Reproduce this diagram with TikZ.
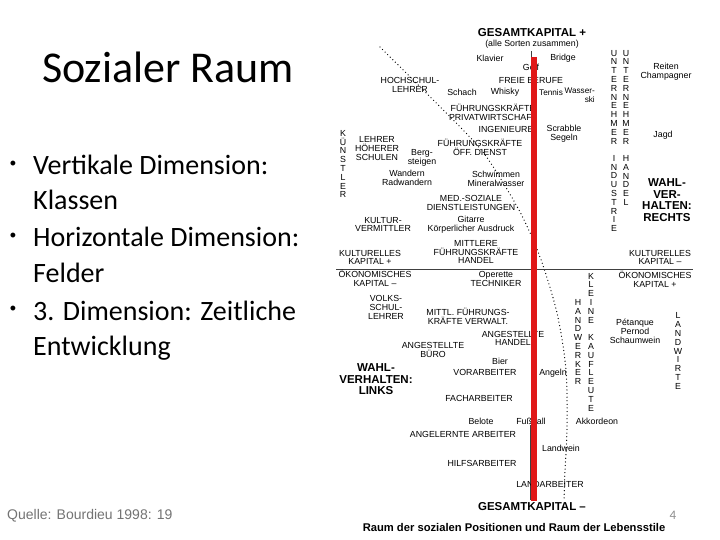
\documentclass[tikz,border=0pt]{standalone}
\usepackage{fontspec}
\setmainfont{Carlito}
\newfontfamily\diagfont{Liberation Sans}
\usetikzlibrary{positioning}
\definecolor{axisred}{RGB}{224,24,24}

\begin{document}
\begin{tikzpicture}[
  x=1pt, y=-1pt,
  lab/.style={font=\diagfont\fontsize{8.8}{8.8}\selectfont, align=center, inner sep=0pt},
  small/.style={lab, font=\diagfont\fontsize{8.2}{8.8}\selectfont},
  headl/.style={font=\diagfont\bfseries\fontsize{11.5}{11.5}\selectfont, align=center, inner sep=0pt},
  capt/.style={font=\diagfont\bfseries\fontsize{11.2}{11.2}\selectfont, inner sep=0pt},
  item/.style={anchor=base west, font=\fontsize{28}{34}\selectfont, inner sep=0pt},
  bul/.style={font=\diagfont\fontsize{18}{18}\selectfont, inner sep=0pt},
  note/.style={font=\diagfont\fontsize{14}{14}\selectfont, text=black!55, inner sep=0pt},
  axis/.style={line width=0.9pt, black!75},
  redaxis/.style={line width=5.5pt, axisred},
  dotline/.style={line width=1.3pt, dash pattern=on 0pt off 3.6pt, line cap=round}
]
\useasboundingbox (0,0) rectangle (720,540);

% slide text
\node[anchor=base, font=\fontsize{44}{44}\selectfont, inner sep=0pt] (title) at (168,83) {Sozialer Raum};
\node[bul] (d1) at (13,165) {•};
\node[item] (v1) at (33,175) {Vertikale Dimension:};
\node[item] (v2) at (33,210) {Klassen};
\node[bul] (d2) at (13,237) {•};
\node[item] (h1) at (33,247) {Horizontale Dimension:};
\node[item] (h2) at (33,282) {Felder};
\node[bul] (d3) at (13,310) {•};
\node[item] (z1) at (33,320) {3. Dimension: Zeitliche};
\node[item] (z2) at (33,355) {Entwicklung};
\node[note, anchor=west] (quelle) at (7,516) {Quelle: Bourdieu 1998: 19};
\node[note, font=\fontsize{13}{13}\selectfont, text=black!45] (pnum) at (673,515) {4};

% dotted border of the field
\draw[dotline] plot[smooth] coordinates {(380,47) (465,132) (490,162) (520,212)
  (540,257) (557,313) (566,370) (567,430) (565,470) (564,500)};

% axes
\draw[axis] (336,269) -- (693,269);
\draw[axis] (531.5,51) -- (531.5,60);
\draw[axis] (530.5,425) -- (530.5,500);

% top half
\node[headl] (gkplus) at (532,33) {GESAMTKAPITAL +};
\node[lab] (sorten) at (532,44) {(alle Sorten zusammen)};
\node[lab] (klavier) at (490,58) {Klavier};
\node[lab] (bridge) at (563,58) {Bridge};
\node[lab] (golf) at (531,67) {Golf};
\node[lab] (reiten) at (666,72) {Reiten\\Champagner};
\node[lab] (hochschul) at (410,85) {HOCHSCHUL-\\LEHRER};
\node[lab] (freie) at (531,81) {FREIE BERUFE};
\node[lab] (schach) at (462,92) {Schach};
\node[lab] (whisky) at (505,92) {Whisky};
\node[small] (tennis) at (551,93) {Tennis};
\node[small, align=right, anchor=east] (wasser) at (595,95.5) {Wasser-\\ski};
\node[lab] (fkpriv) at (493,112) {FÜHRUNGSKRÄFTE\\PRIVATWIRTSCHAFT};
\node[lab] (ingenieure) at (506,129) {INGENIEURE};
\node[lab] (scrabble) at (564,134) {Scrabble\\Segeln};
\node[lab] (jagd) at (663,135) {Jagd};
\node[lab] (untern1) at (614,97) {U\\N\\T\\E\\R\\N\\E\\H\\M\\E\\R};
\node[lab] (untern2) at (626,97) {U\\N\\T\\E\\R\\N\\E\\H\\M\\E\\R};
\node[lab] (kuenstler) at (343,164) {K\\Ü\\N\\S\\T\\L\\E\\R};
\node[lab] (lehrer) at (377,148.5) {LEHRER\\HÖHERER\\SCHULEN};
\node[lab] (berg) at (422,157.5) {Berg-\\steigen};
\node[lab] (fkoeff) at (480,147) {FÜHRUNGSKRÄFTE\\ÖFF. DIENST};
\node[lab] (wandern) at (407,178) {Wandern\\Radwandern};
\node[lab] (schwimmen) at (496,178.5) {Schwimmen\\Mineralwasser};
\node[lab] (medsoz) at (471,203) {MED.-SOZIALE\\DIENSTLEISTUNGEN};
\node[lab] (industrie) at (614,193.5) {I\\N\\D\\U\\S\\T\\R\\I\\E};
\node[lab] (handel) at (626,180.5) {H\\A\\N\\D\\E\\L};
\node[headl] (wahlr) at (667,200) {WAHL-\\VER-\\HALTEN:\\RECHTS};
\node[lab] (kultverm) at (383,224.5) {KULTUR-\\VERMITTLER};
\node[lab] (gitarre) at (471,224.5) {Gitarre\\Körperlicher Ausdruck};
\node[lab] (kkplus) at (370,257.5) {KULTURELLES\\KAPITAL +};
\node[lab] (mittlere) at (476,252) {MITTLERE\\FÜHRUNGSKRÄFTE\\HANDEL};
\node[lab] (kkminus) at (660,257.5) {KULTURELLES\\KAPITAL –};

% bottom half
\node[lab] (oekminus) at (375,278.5) {ÖKONOMISCHES\\KAPITAL –};
\node[lab] (oekplus) at (655,279.5) {ÖKONOMISCHES\\KAPITAL +};
\node[lab] (operette) at (496,279) {Operette\\TECHNIKER};
\node[lab] (volks) at (386,307.5) {VOLKS-\\SCHUL-\\LEHRER};
\node[lab] (mittl) at (468,316) {MITTL. FÜHRUNGS-\\KRÄFTE VERWALT.};
\node[lab] (angh) at (513,338.5) {ANGESTELLTE\\HANDEL};
\node[lab] (angb) at (433,350) {ANGESTELLTE\\BÜRO};
\node[lab] (bier) at (500,361) {Bier};
\node[lab] (vorarb) at (485,372) {VORARBEITER};
\node[headl] (wahll) at (376,379.5) {WAHL-\\VERHALTEN:\\LINKS};
\node[lab] (petanque) at (635,331.5) {Pétanque\\Pernod\\Schaumwein};
\node[lab] (angeln) at (553,373) {Angeln};
\node[lab] (handwerker) at (578,342) {H\\A\\N\\D\\W\\E\\R\\K\\E\\R};
\node[lab] (kleine) at (591,342) {K\\L\\E\\I\\N\\E\\[8.8pt]K\\A\\U\\F\\L\\E\\U\\T\\E};
\node[lab] (landwirte) at (678,351) {L\\A\\N\\D\\W\\I\\R\\T\\E};
\node[lab] (fach) at (479,398) {FACHARBEITER};
\node[lab] (belote) at (481,421) {Belote};
\node[lab] (fussball) at (531,421) {Fußball};
\node[lab] (akkordeon) at (597,421) {Akkordeon};
\node[lab] (angel) at (463,434) {ANGELERNTE ARBEITER};
\node[lab] (landwein) at (561,448) {Landwein};
\node[lab] (hilfs) at (482,463) {HILFSARBEITER};
\node[lab] (landarb) at (550,484) {LANDARBEITER};
\node[headl] (gkminus) at (532,507) {GESAMTKAPITAL –};
\node[capt] (caption) at (514,527) {Raum der sozialen Positionen und Raum der Lebensstile};

% red vertical axis
\draw[redaxis] (534,57) -- (534,501);
\end{tikzpicture}
\end{document}
